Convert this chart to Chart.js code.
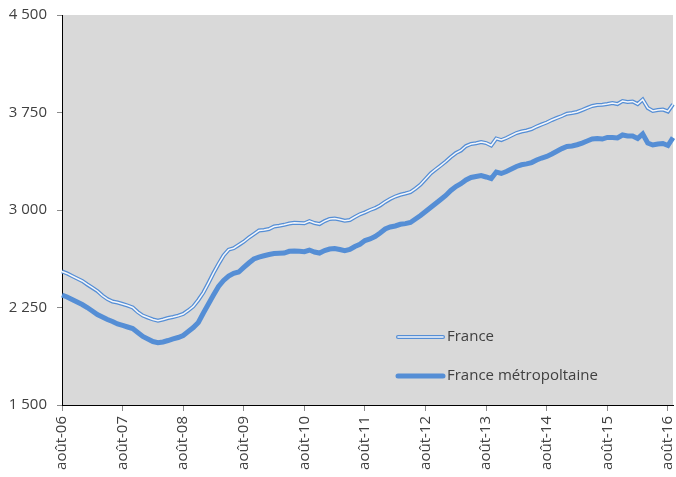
<!DOCTYPE html>
<html>
<head>
<meta charset="utf-8">
<script src="https://cdn.jsdelivr.net/npm/chart.js@4.4.1/dist/chart.umd.min.js"></script>
<style>
  html, body { margin: 0; padding: 0; background: #ffffff; }
  #wrap { width: 676px; height: 477px; position: relative; }
</style>
</head>
<body>
<div id="wrap"><canvas id="c" width="676" height="477"></canvas></div>
<script>
// Month names (French abbreviations) used to build the category labels, Aug 2006 .. Sep 2016
const monthNames = ['janv', 'févr', 'mars', 'avr', 'mai', 'juin', 'juil', 'août', 'sept', 'oct', 'nov', 'déc'];
const startYear = 2006, startMonth = 7, monthCount = 122;

// Y-axis ticks
const yTicks = [1500, 2250, 3000, 3750, 4500];

// Series values (monthly)
const france = [
  2527, 2512, 2492, 2473, 2454, 2427, 2402, 2377, 2342, 2315,
  2296, 2288, 2277, 2265, 2250, 2215, 2188, 2173, 2158, 2148,
  2158, 2169, 2177, 2187, 2200, 2227, 2258, 2308, 2365, 2438,
  2515, 2585, 2650, 2695, 2706, 2731, 2756, 2788, 2815, 2842,
  2846, 2854, 2873, 2879, 2886, 2896, 2902, 2900, 2898, 2915,
  2900, 2892, 2915, 2931, 2935, 2927, 2918, 2923, 2946, 2967,
  2982, 3000, 3015, 3035, 3062, 3085, 3104, 3117, 3127, 3138,
  3165, 3196, 3238, 3281, 3312, 3342, 3373, 3408, 3438, 3458,
  3492, 3508, 3513, 3523, 3515, 3496, 3550, 3538, 3554, 3573,
  3592, 3604, 3612, 3623, 3642, 3658, 3673, 3692, 3708, 3723,
  3741, 3746, 3754, 3769, 3785, 3800, 3808, 3810, 3815, 3823,
  3815, 3838, 3831, 3835, 3815, 3850, 3785, 3762, 3769, 3773,
  3758, 3813
];
const franceMetro = [
  2346, 2331, 2312, 2292, 2273, 2250, 2223, 2196, 2177, 2158,
  2142, 2123, 2112, 2100, 2088, 2058, 2027, 2008, 1988, 1979,
  1985, 1996, 2008, 2019, 2035, 2065, 2096, 2135, 2208, 2277,
  2346, 2412, 2458, 2492, 2513, 2523, 2558, 2592, 2623, 2638,
  2648, 2658, 2665, 2667, 2669, 2682, 2685, 2682, 2679, 2692,
  2677, 2669, 2688, 2700, 2704, 2696, 2687, 2696, 2719, 2736,
  2765, 2777, 2796, 2823, 2854, 2869, 2877, 2890, 2895, 2904,
  2931, 2958, 2988, 3019, 3050, 3081, 3112, 3150, 3181, 3202,
  3231, 3250, 3258, 3265, 3254, 3242, 3292, 3281, 3296, 3315,
  3335, 3348, 3355, 3365, 3385, 3400, 3412, 3431, 3452, 3472,
  3488, 3492, 3502, 3515, 3531, 3546, 3550, 3546, 3558, 3558,
  3554, 3577, 3569, 3569, 3550, 3585, 3515, 3500, 3508, 3512,
  3496, 3556
];
const seriesNames = ['France', 'France métropoltaine'];

const categories = [];
for (let i = 0; i < monthCount; i++) {
  const m = (startMonth + i) % 12;
  const y = startYear + Math.floor((startMonth + i) / 12);
  categories.push(monthNames[m] + '-' + String(y % 100).padStart(2, '0'));
}

const BLUE = '#558ED5';
const INNER = '#F4F6FA';
const TEXT = '#404040';
const FONT = "'Open Sans', 'Noto Sans', sans-serif";

function fmt(v) {
  return String(v).replace(/\B(?=(\d{3})+(?!\d))/g, ' ');
}

const bgPlugin = {
  id: 'plotBg',
  beforeDraw(chart) {
    const a = chart.chartArea, ctx = chart.ctx;
    ctx.save();
    ctx.fillStyle = '#D9D9D9';
    ctx.fillRect(a.left, a.top, a.right - a.left, a.bottom - a.top);
    ctx.restore();
  }
};

const legendPlugin = {
  id: 'innerLegend',
  afterDraw(chart, args, opts) {
    const ctx = chart.ctx;
    ctx.save();
    ctx.font = '15px ' + FONT;
    ctx.fillStyle = TEXT;
    ctx.textBaseline = 'middle';
    ctx.lineCap = 'round';
    opts.items.forEach(it => {
      if (it.double) {
        ctx.strokeStyle = BLUE; ctx.lineWidth = 4;
        ctx.beginPath(); ctx.moveTo(opts.x1, it.y); ctx.lineTo(opts.x2, it.y); ctx.stroke();
        ctx.strokeStyle = INNER; ctx.lineWidth = 1.6;
        ctx.beginPath(); ctx.moveTo(opts.x1, it.y); ctx.lineTo(opts.x2, it.y); ctx.stroke();
      } else {
        ctx.strokeStyle = BLUE; ctx.lineWidth = 5;
        ctx.beginPath(); ctx.moveTo(opts.x1, it.y); ctx.lineTo(opts.x2, it.y); ctx.stroke();
      }
      ctx.fillStyle = TEXT;
      ctx.fillText(it.text, opts.x2 + 4, it.y);
    });
    ctx.restore();
  }
};

new Chart(document.getElementById('c'), {
  type: 'line',
  data: {
    labels: categories,
    datasets: [
      { label: seriesNames[0], data: france, borderColor: BLUE, borderWidth: 4, pointRadius: 0, tension: 0, fill: false, order: 3 },
      { label: seriesNames[0] + ' (inner)', data: france, borderColor: INNER, borderWidth: 1.5, pointRadius: 0, tension: 0, fill: false, order: 2 },
      { label: seriesNames[1], data: franceMetro, borderColor: BLUE, borderWidth: 5, pointRadius: 0, tension: 0, fill: false, order: 1 }
    ]
  },
  options: {
    responsive: false,
    animation: false,
    layout: { padding: { top: 15, right: 3, left: 0, bottom: 0 } },
    plugins: {
      legend: { display: false },
      tooltip: { enabled: false },
      innerLegend: {
        x1: 398, x2: 443,
        items: [
          { text: seriesNames[0], y: 337, double: true },
          { text: seriesNames[1], y: 376, double: false }
        ]
      }
    },
    scales: {
      x: {
        type: 'category',
        offset: false,
        afterFit(s) { s.height = 72; s.paddingLeft = 0; s.paddingRight = 0; },
        grid: { drawOnChartArea: false, drawTicks: true, tickLength: 6, color: '#8C8C8C' },
        border: { display: true, color: '#000000', width: 1 },
        ticks: {
          autoSkip: false,
          minRotation: 90, maxRotation: 90,
          padding: 5,
          color: TEXT,
          font: { family: FONT, size: 15 },
          callback(val, idx) {
            const l = this.getLabelForValue(val);
            return l.startsWith('août') ? l : null;
          }
        }
      },
      y: {
        min: yTicks[0], max: yTicks[yTicks.length - 1],
        afterFit(s) { s.width = 62; s.paddingTop = 0; s.paddingBottom = 0; },
        afterBuildTicks(s) { s.ticks = yTicks.map(v => ({ value: v })); },
        grid: { drawOnChartArea: false, drawTicks: true, tickLength: 5, color: '#8C8C8C' },
        border: { display: true, color: '#000000', width: 1 },
        ticks: {
          padding: 10,
          color: TEXT,
          font: { family: FONT, size: 15 },
          callback(v) { return fmt(v); }
        }
      }
    }
  },
  plugins: [bgPlugin, legendPlugin]
});
</script>
</body>
</html>
